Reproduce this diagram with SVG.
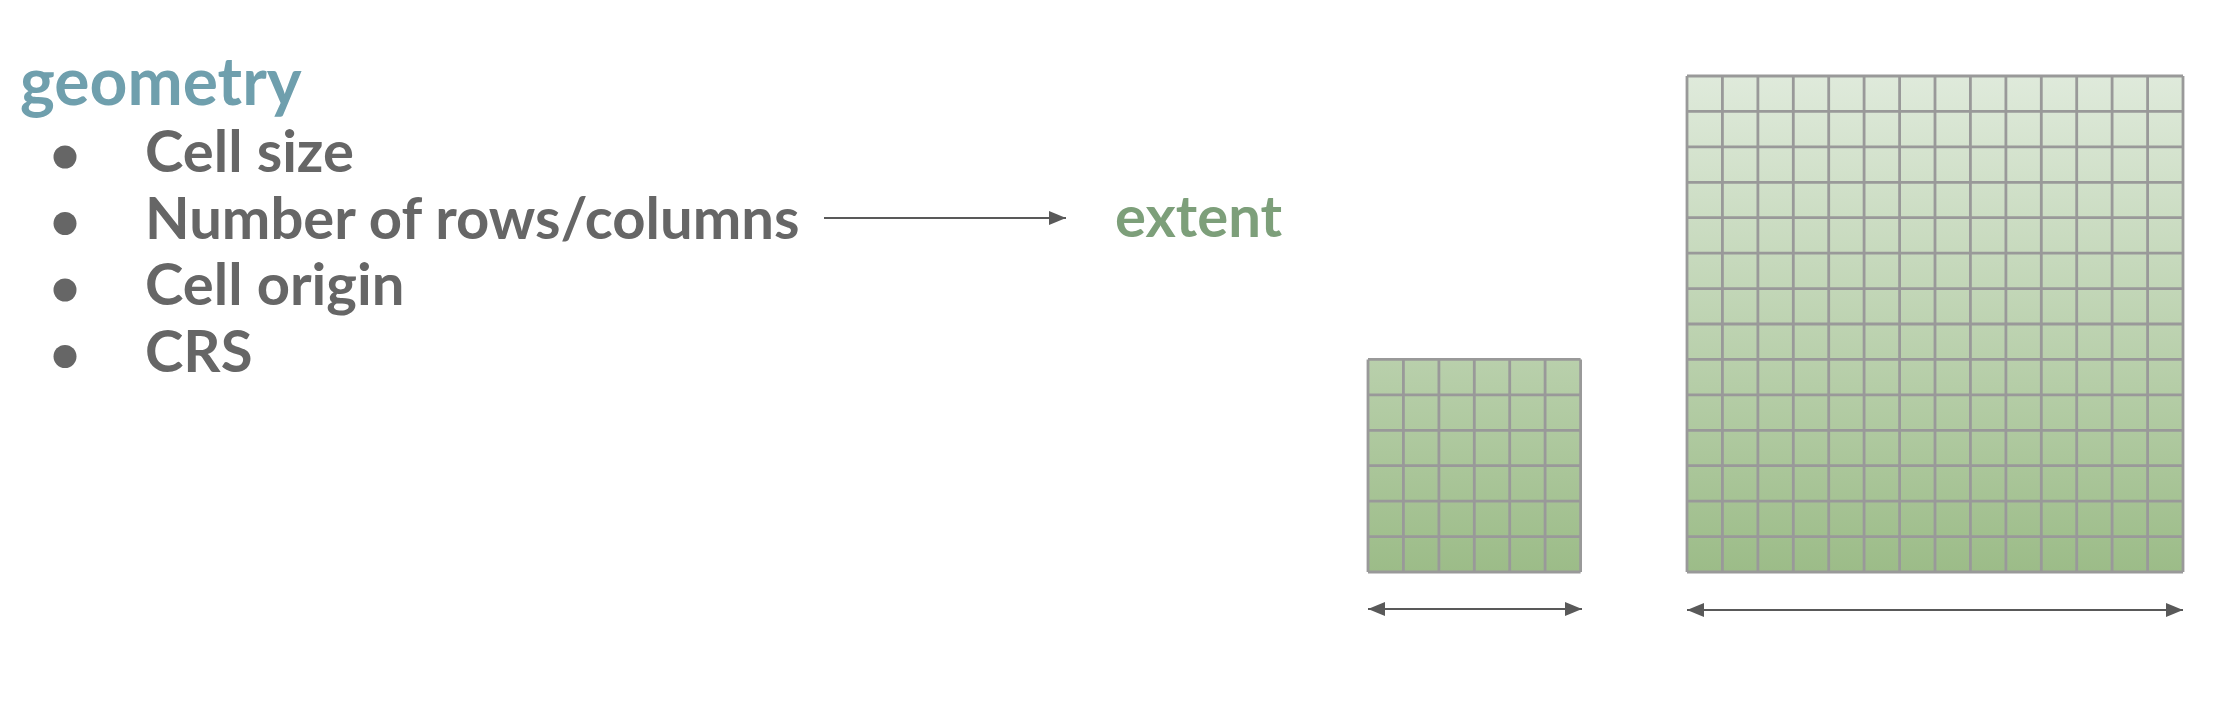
<svg xmlns="http://www.w3.org/2000/svg" width="2224" height="706" viewBox="0 0 2224 706">
<style>
.title{font-family:Lato,"Liberation Sans",sans-serif;font-weight:700;font-size:66px;fill:#6f9fad}
.item{font-family:Lato,"Liberation Sans",sans-serif;font-weight:700;font-size:58px;fill:#666666}
.ext{font-family:Lato,"Liberation Sans",sans-serif;font-weight:700;font-size:58px;fill:#7d9f7a}
.bul{fill:#666666}
.grid{fill:none;stroke:#999999;stroke-width:2.8}
.conn{stroke:#595959;stroke-width:2.2;fill:none}
</style>
<defs>
<linearGradient id="gfill" gradientUnits="userSpaceOnUse" x1="0" y1="76" x2="0" y2="572">
<stop offset="0" stop-color="#dfeadb"/>
<stop offset="1" stop-color="#9cbc88"/>
</linearGradient>
<marker id="ah" markerUnits="userSpaceOnUse" markerWidth="18" markerHeight="14" refX="17" refY="7" orient="auto-start-reverse">
<path d="M0,0 L17,7 L0,14 Z" fill="#595959"/>
</marker>
</defs>
<g id="title-geometry">
<text class="title" x="20" y="105">geometry</text>
</g>
<g id="list-geometry">
<circle class="bul" cx="65" cy="157" r="11.5"/>
<circle class="bul" cx="65" cy="223.5" r="11.5"/>
<circle class="bul" cx="65" cy="290" r="11.5"/>
<circle class="bul" cx="65" cy="356.5" r="11.5"/>
<text class="item" x="145" y="172">Cell size</text>
<text class="item" x="145" y="238.5">Number of rows/columns</text>
<text class="item" x="145" y="305">Cell origin</text>
<text class="item" x="145" y="371.5">CRS</text>
</g>
<g id="label-extent">
<text class="ext" x="1115" y="237">extent</text>
</g>
<g id="grid-small">
<rect x="1368" y="359.4" width="212.6" height="212.6" fill="url(#gfill)"/>
<path class="grid" d="M1368,359.4V572M1403.4,359.4V572M1438.9,359.4V572M1474.3,359.4V572M1509.7,359.4V572M1545.1,359.4V572M1580.6,359.4V572M1368,359.4H1580.6M1368,394.9H1580.6M1368,430.3H1580.6M1368,465.7H1580.6M1368,501.1H1580.6M1368,536.6H1580.6M1368,572H1580.6"/>
</g>
<g id="grid-large">
<rect x="1687" y="76" width="496" height="496" fill="url(#gfill)"/>
<path class="grid" d="M1687,76V572M1722.4,76V572M1757.9,76V572M1793.3,76V572M1828.7,76V572M1864.1,76V572M1899.6,76V572M1935,76V572M1970.4,76V572M2005.9,76V572M2041.3,76V572M2076.7,76V572M2112.1,76V572M2147.6,76V572M2183,76V572M1687,76H2183M1687,111.4H2183M1687,146.9H2183M1687,182.3H2183M1687,217.7H2183M1687,253.1H2183M1687,288.6H2183M1687,324H2183M1687,359.4H2183M1687,394.9H2183M1687,430.3H2183M1687,465.7H2183M1687,501.1H2183M1687,536.6H2183M1687,572H2183"/>
</g>
<g id="connectors">
<line class="conn" x1="824" y1="218" x2="1066" y2="218" marker-end="url(#ah)"/>
<line class="conn" x1="1368" y1="609" x2="1582" y2="609" marker-start="url(#ah)" marker-end="url(#ah)"/>
<line class="conn" x1="1687" y1="610" x2="2183" y2="610" marker-start="url(#ah)" marker-end="url(#ah)"/>
</g>
</svg>
